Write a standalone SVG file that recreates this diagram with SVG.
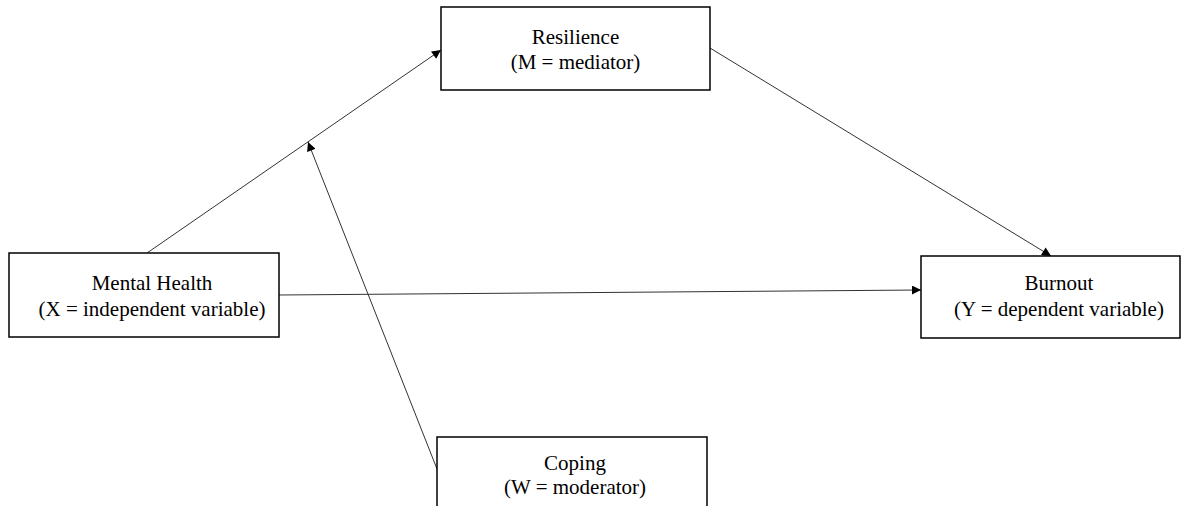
<svg xmlns="http://www.w3.org/2000/svg" width="1181" height="506" viewBox="0 0 1181 506">
<style>
.box{fill:#fff;stroke:#000;stroke-width:1.5}
.lbl{font-family:"Liberation Serif","Times New Roman",serif;font-size:21px;fill:#000;text-anchor:middle}
.edge{stroke:#333;stroke-width:1;fill:none;marker-end:url(#arr)}
</style>
<defs>
<marker id="arr" viewBox="0 0 10 10" refX="10" refY="5" markerWidth="10" markerHeight="9" markerUnits="userSpaceOnUse" orient="auto">
<path d="M0,0 L10,5 L0,10 z" fill="#000"/>
</marker>
</defs>
<rect width="1181" height="506" fill="#fff"/>
<g id="connectors">
<line class="edge" x1="147" y1="253" x2="441" y2="50"/>
<line class="edge" x1="710" y1="48" x2="1051" y2="256"/>
<line class="edge" x1="279" y1="295" x2="921" y2="290"/>
<line class="edge" x1="437" y1="469" x2="308" y2="142"/>
</g>
<g id="resilience">
<rect class="box" x="441" y="7" width="269" height="83"/>
<text class="lbl" x="575.5" y="44">Resilience</text>
<text class="lbl" x="575.5" y="69">(M = mediator)</text>
</g>
<g id="mental-health">
<rect class="box" x="9" y="253" width="270" height="84"/>
<text class="lbl" x="152" y="290">Mental Health</text>
<text class="lbl" x="152" y="316">(X = independent variable)</text>
</g>
<g id="burnout">
<rect class="box" x="921" y="256" width="259" height="82"/>
<text class="lbl" x="1059" y="290">Burnout</text>
<text class="lbl" x="1059" y="316">(Y = dependent variable)</text>
</g>
<g id="coping">
<rect class="box" x="437" y="437" width="270" height="80"/>
<text class="lbl" x="575" y="470">Coping</text>
<text class="lbl" x="575" y="494">(W = moderator)</text>
</g>
</svg>
